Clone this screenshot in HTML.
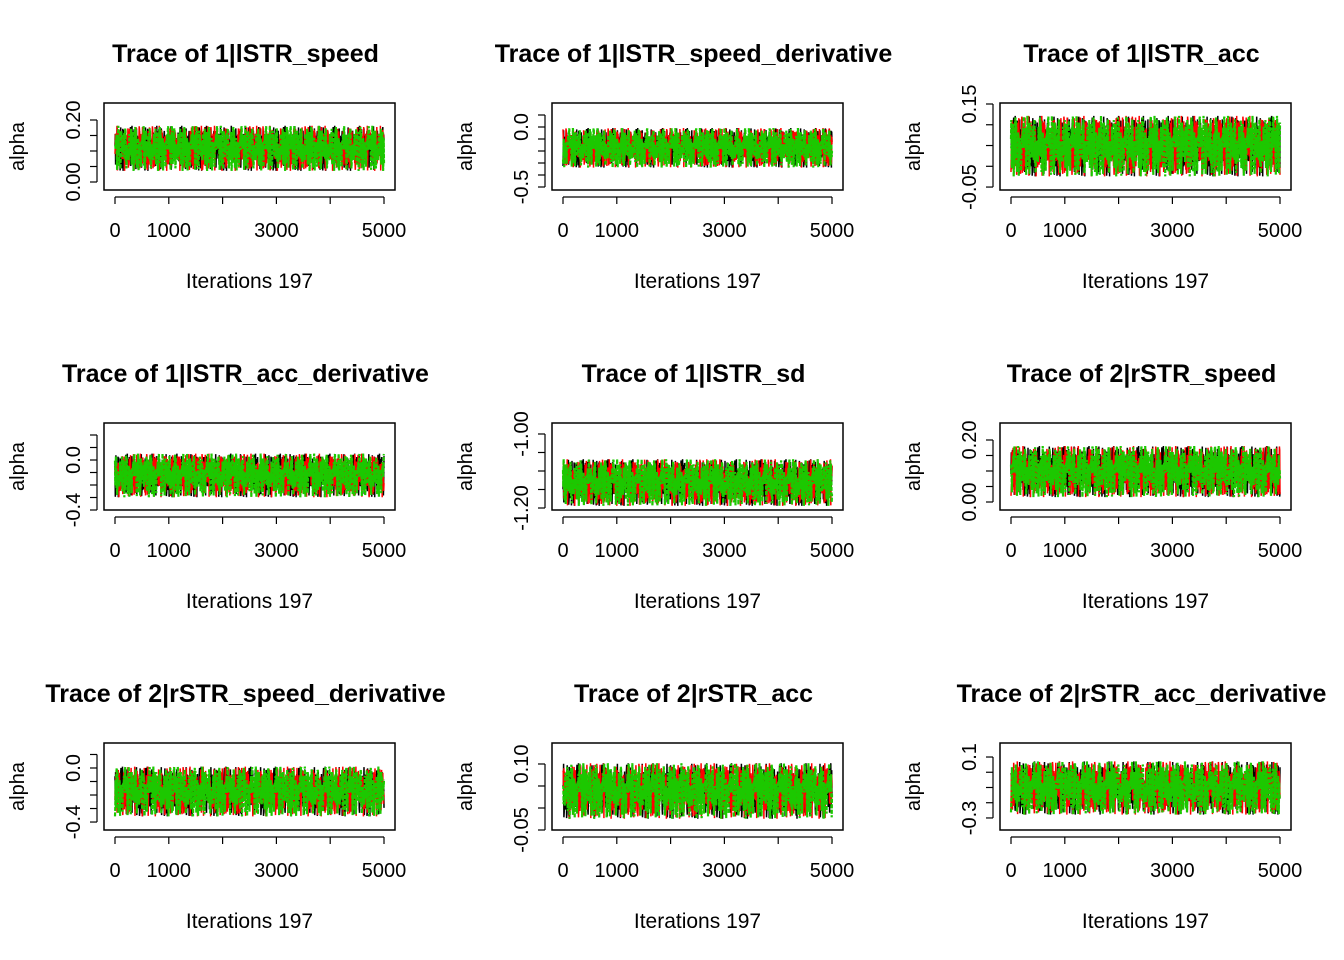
<!DOCTYPE html>
<html><head><meta charset="utf-8"><style>
html,body{margin:0;padding:0;background:#fff;}
svg{display:block;font-family:"Liberation Sans",Arial,sans-serif;}
</style></head><body>
<svg id="c" width="1344" height="960"></svg>
<script>
const titles=["Trace of 1|lSTR_speed","Trace of 1|lSTR_speed_derivative","Trace of 1|lSTR_acc","Trace of 1|lSTR_acc_derivative","Trace of 1|lSTR_sd","Trace of 2|rSTR_speed","Trace of 2|rSTR_speed_derivative","Trace of 2|rSTR_acc","Trace of 2|rSTR_acc_derivative"];
const yLims=[[-0.0258,0.2548],[-0.525,0.2],[-0.0571,0.1524],[-0.4,0.296],[-1.2054,-0.9703],[-0.0258,0.2548],[-0.459,0.185],[-0.05,0.1477],[-0.379,0.192]];
const yTicks=[[0,0.05,0.1,0.15,0.2],[-0.5,-0.4,-0.3,-0.2,-0.1,0,0.1],[-0.05,0,0.05,0.1,0.15],[-0.4,-0.3,-0.2,-0.1,0,0.1,0.2],[-1.2,-1.15,-1.1,-1.05,-1.0],[0,0.05,0.1,0.15,0.2],[-0.4,-0.3,-0.2,-0.1,0,0.1],[-0.05,0,0.05,0.1],[-0.3,-0.2,-0.1,0,0.1]];
const yTickLabels=[[[0,"0.00"],[0.2,"0.20"]],[[-0.5,"-0.5"],[0,"0.0"]],[[-0.05,"-0.05"],[0.15,"0.15"]],[[-0.4,"-0.4"],[0,"0.0"]],[[-1.2,"-1.20"],[-1.0,"-1.00"]],[[0,"0.00"],[0.2,"0.20"]],[[-0.4,"-0.4"],[0,"0.0"]],[[-0.05,"-0.05"],[0.1,"0.10"]],[[-0.3,"-0.3"],[0.1,"0.1"]]];
const chainCenters=[0.11,-0.17,0.05,-0.12,-1.13,0.10,-0.17,0.04,-0.10];
const chainSpreads=[0.075,0.17,0.075,0.18,0.065,0.085,0.19,0.065,0.18];
const xTicks=[0,1000,2000,3000,4000,5000];
const xTickLabels=["0","1000","","3000","","5000"];
const noise=[0.12,-0.45,0.78,-0.2,0.33,-0.91,0.05,0.6,-0.62,0.27,-0.08,0.95,-0.38,0.15,-0.72,0.49,-0.15,0.02,-0.55,0.84,-0.3,0.41,-0.97,0.22,0.66,-0.12,-0.48,0.35,0.08,-0.81,0.57,-0.26,0.71,-0.04,-0.66,0.19,0.88,-0.41,0.29,-0.18,0.52,-0.85,0.1,-0.33,0.74,-0.58,0.03,0.44,-0.22,0.93,-0.7,0.17,-0.09,0.61,-0.5,0.26,-0.94,0.38,0.06,-0.29,0.8,-0.36,0.13,-0.76,0.47,-0.02,0.69,-0.6,0.31,-0.14,0.55,-0.88,0.21,0.9,-0.43,0.09,-0.24,0.64,-0.53,0.36,-0.78,0.16,0.5,-0.11,-0.67,0.82,-0.35,0.24,-0.06,0.73,-0.46,0.11,-0.99,0.42,0.58,-0.19,0.28];
const colors=["#000000","#ff0000","#1cc800"];
const widths=[1.5,1.5,2.2];
const strides=[7,11,13];
const NS="http://www.w3.org/2000/svg";
const svg=document.getElementById('c');
function el(tag,attrs,parent,text){const e=document.createElementNS(NS,tag);for(const k in attrs)e.setAttribute(k,attrs[k]);if(text!==undefined)e.textContent=text;(parent||svg).appendChild(e);return e;}
const colX=[104,552,1000],rowY=[103,423,743],W=291,H=87;
for(let p=0;p<9;p++){
  const L=colX[p%3],T=rowY[Math.floor(p/3)],B=T+H;
  const g=el('g',{});
  
  
  const xs=v=>115+(v/5000)*269+(L-104);
  const ys=v=>B-(v-yLims[p][0])/(yLims[p][1]-yLims[p][0])*H;
  const t=el('text',{x:L+W/2-4,y:T-41,'text-anchor':'middle','font-size':25,'font-weight':'bold'},g,titles[p]);
  
  
  const cp=el('clipPath',{id:'cl'+p},g);el('rect',{x:L,y:T,width:W,height:H},cp);
  const tg=el('g',{'clip-path':'url(#cl'+p+')'},g);
  for(let c=0;c<3;c++){
    let pts=[];const n=900;
    for(let i=0;i<=n;i++){
      const v=chainCenters[p]+chainSpreads[p]*noise[(i*strides[c]+c*31+p*5+Math.floor(i/97))%noise.length];
      pts.push(xs(i*5000/n).toFixed(1)+','+ys(v).toFixed(1));
    }
    const pl=el('polyline',{points:pts.join(' '),fill:'none',stroke:colors[c],'stroke-width':widths[c],'stroke-dasharray':c==2?'4,1.5':'none'},tg);
    
    
  }
  el('rect',{x:L,y:T,width:W,height:H,fill:'none',stroke:'#000','stroke-width':1.5},g);
  el('line',{x1:xs(0),x2:xs(5000),y1:B+7,y2:B+7,stroke:'#000','stroke-width':1.2},g);
  xTicks.forEach((v,i)=>{el('line',{x1:xs(v),x2:xs(v),y1:B+7,y2:B+14,stroke:'#000','stroke-width':1.2},g);
    if(xTickLabels[i]){const tx=el('text',{x:xs(v),y:B+47,'text-anchor':'middle','font-size':20},g,xTickLabels[i]);}});
  const xl=el('text',{x:L+W/2,y:B+98,'text-anchor':'middle','font-size':21},g,'Iterations 197');
  
  
  const yt=yTicks[p];
  el('line',{x1:L-7,x2:L-7,y1:ys(yt[0]),y2:ys(yt[yt.length-1]),stroke:'#000','stroke-width':1.2},g);
  yt.forEach(v=>el('line',{x1:L-14,x2:L-7,y1:ys(v),y2:ys(v),stroke:'#000','stroke-width':1.2},g));
  yTickLabels[p].forEach(([v,s])=>{const yy=ys(v);const tx=el('text',{x:L-24,y:yy,'text-anchor':'middle','font-size':20,transform:`rotate(-90 ${L-24} ${yy})`},g,s);});
  const yl=el('text',{x:L-80,y:T+H/2,'text-anchor':'middle','font-size':20,transform:`rotate(-90 ${L-80} ${T+H/2})`},g,'alpha');
  
  
}
</script>
</body></html>
